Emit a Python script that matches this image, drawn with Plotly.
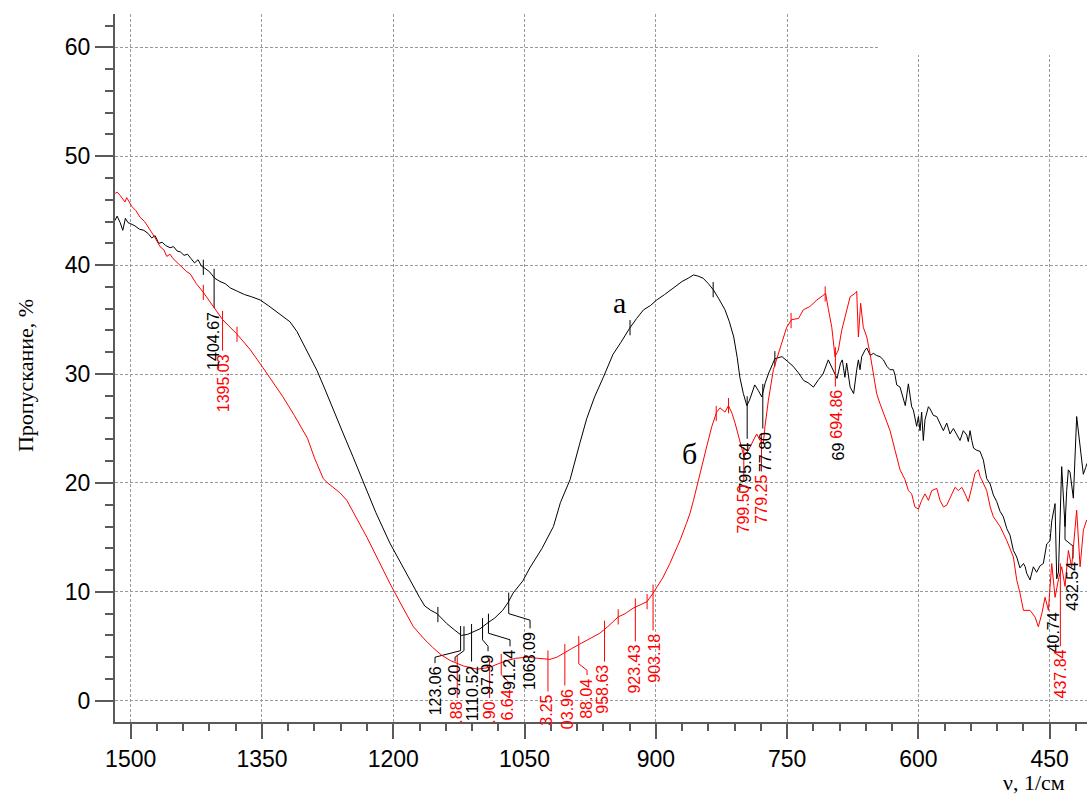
import numpy as np
import plotly.graph_objects as go

# ---------------- data ----------------
black_wn = [1517.9,1515.5,1512,1509,1506,1503,1500,1495,1490,1485,1480,1476,1472,1468,1464,1460,1455,1451,1447,1443,1439,1435,1431,1427,1423,1419,1415,1410,1404,1398,1392,1386,1378,1370,1362,1352,1343,1335,1326,1318,1310,1303,1295,1287,1278,1269,1257,1246,1235,1220,1204,1192,1181,1170,1164,1157,1150,1144,1139,1130,1122,1115,1109,1101,1093,1084,1075,1069,1063,1052,1044,1030,1017,1009,998,994,987,979,970,960,949,940,930,922,914,906,899,890,880,870,863,857,852,846,840,834,828,821,816,811,807,804,800,796,793,790,787,783,779,775,771,764,756,750,743,737,731,726,720,714,709,703,698,693,689,687,684,682,678,674,670.5,668.6,666.7,664.8,661,659,655,651.5,647.7,643.9,640,636,632.4,628.6,626.7,624.8,621,619,617,615,611.5,607.7,605.8,602,600,598.2,596.3,594.4,592.5,588.6,586.7,582.9,579.1,575.3,571.5,567.7,563.9,560,556.3,552.5,548.7,544.8,543,541,539,537,533.4,529.6,525.8,522,518,514.4,510.6,506.8,503,499,495.3,491.5,487.7,484,480,478,476.3,472.5,468.7,465,461,457.3,453.4,449.6,447.7,443.9,442,440,436.3,432.5,430.6,428.7,426.8,423,419.2,415.4,411.6,409,407.4]
black_t = [44.1,44.5,43.9,43.2,44.3,43.9,43.8,43.6,43.3,43.2,42.9,42.5,42.7,42.0,42.1,41.8,41.6,41.7,41.3,41.2,40.9,41.0,40.6,40.2,40.5,39.9,39.7,39.4,38.8,38.5,38.3,37.9,37.6,37.3,37.1,36.8,36.3,35.8,35.3,34.8,33.9,32.8,31.6,30.3,28.6,26.8,24.5,22.4,20.3,17.3,14.5,12.7,11.1,9.5,8.7,8.3,8.0,7.5,7.1,6.5,6.0,6.1,6.3,6.6,7.1,7.6,8.3,9.0,9.9,11.0,12.2,14.0,16.0,18.2,20.3,21.6,23.6,25.9,27.9,29.7,31.8,32.9,34.2,35.1,35.9,36.3,36.8,37.3,37.9,38.5,38.8,39.1,39.0,38.8,38.3,37.7,36.9,35.9,34.8,33.4,31.5,29.7,28.2,27.1,27.6,28.4,29.0,28.5,27.9,29.2,30.1,31.4,31.6,31.2,30.7,30.1,29.4,29.2,28.8,29.5,30.0,31.3,30.5,29.6,31.0,31.3,29.7,31.0,28.8,28.2,30.4,31.3,30.4,31.6,32.2,32.4,31.7,31.9,31.7,31.6,31.3,30.7,30.4,30.4,29.9,29.0,28.8,28.2,27.6,27.1,29.1,27.0,26.7,25.2,26.1,24.8,26.5,23.9,25.8,27.0,26.8,26.2,26.1,25.5,24.8,25.5,24.5,25.0,24.5,23.9,24.8,24.4,23.8,24.8,23.9,23.2,23.0,22.9,22.1,20.4,19.9,18.9,18.3,17.4,16.9,15.8,15.2,13.8,13.2,12.2,12.6,12.3,11.7,11.1,12.3,11.8,12.4,12.6,14.4,14.7,16.5,18.1,11.2,11.8,21.5,16.0,19.3,21.2,21.0,18.6,26.1,23.6,20.8,21.4,21.8]

red_wn = [1517.6,1515.3,1512,1509,1506.5,1504.5,1501,1498.8,1494,1489.3,1484,1478,1472,1466.5,1462,1458.8,1455,1451.6,1444,1436,1432,1425,1417,1406,1395,1379,1364,1349,1338,1326,1313,1306,1298,1290,1280,1275,1269,1261,1253,1242,1230,1217,1204,1190,1177,1165,1155,1145,1135,1120,1104,1095,1089,1080,1070,1060,1047,1035,1021,1013,1006,996,987,975,964,955,943,935,926,918,910,903,897,892,884,880,876,872,865,861,857,852,849,842,836,830.5,826.7,823,821,817,813,809.5,804,799.2,794.3,788.6,784.8,781,777.2,775.3,771.4,765.7,758,750.5,744.8,737,731.5,724,716,708.6,706,703,699,695.3,691.5,687.7,682,678,672.4,670.5,668.6,666,663,659,655.3,651.5,647.7,644,638,632.4,626.7,621,615.3,611.5,607.7,604,600,596.3,592.5,588.6,584.8,579,575.3,571.5,567.7,562,558.2,554.4,550.5,546.7,543,539,535.3,531.5,529.6,527.7,522,518,514.4,506.7,499,491.5,487.7,484,480,476,472.5,466.8,463,459,455.3,451.5,447.7,443.9,440.1,436.3,432.5,428.7,424.9,419.2,415.3,411.5,407.7]
red_t = [46.6,46.7,46.4,46.0,45.8,46.2,45.7,45.4,45.0,44.4,44.0,43.3,42.5,41.7,41.4,40.8,41.0,40.6,40.0,39.4,39.2,38.3,37.5,36.2,35.0,33.7,32.3,30.6,29.3,27.9,26.2,25.2,24.1,22.3,20.4,20.0,19.6,19.1,18.4,16.8,15.0,12.9,10.8,8.7,6.8,5.7,4.9,4.2,3.7,3.2,2.9,3.0,3.1,3.4,3.7,3.9,4.0,3.9,3.8,4.0,4.3,4.8,5.2,5.7,6.2,6.8,7.7,8.0,8.5,8.8,9.1,9.9,10.6,11.3,12.6,13.3,14.1,14.8,16.3,17.2,18.4,20.1,21.0,23.3,25.2,26.5,26.9,26.6,26.5,27.1,26.4,25.5,23.9,22.4,23.0,23.9,24.5,23.9,23.6,25.2,27.6,30.4,32.5,34.3,35.0,35.1,35.9,36.2,36.8,37.2,37.4,36.0,34.3,31.6,32.2,34.0,35.9,37.1,37.4,37.6,33.4,36.5,34.3,33.4,31.9,30.0,28.2,27.3,26.1,24.8,23.0,21.2,20.3,19.3,19.0,17.8,17.6,18.4,19.0,18.4,19.3,19.5,18.4,17.8,17.95,19.0,19.6,19.3,19.6,19.0,18.3,19.6,20.9,21.2,20.6,20.3,19.3,17.8,16.9,16.0,14.7,13.2,11.1,9.9,8.3,8.3,8.3,7.7,6.8,8.0,9.5,8.3,12.6,9.5,11.1,12.3,10.5,13.8,12.3,17.5,12.3,15.7,16.6]

x_ticks = [1500, 1350, 1200, 1050, 900, 750, 600, 450]
y_ticks = [0, 10, 20, 30, 40, 50, 60]

# labelled peaks
black_peaks = [1404.67, 1123.06, 1119.20, 1110.52, 1097.99, 1091.24, 1068.09, 795.64, 777.80, 692.10, 440.74, 432.54]
black_peak_text = ["1404.67", "123.06", "9.20", "1110.52", "97.99", "91.24", "1068.09", "795.64", "77.80", "69", "40.74", "432.54"]
red_peaks = [1395.03, 1126.88, 1089.90, 1076.64, 1023.25, 1003.96, 988.04, 958.63, 923.43, 903.18, 799.50, 779.25, 694.86, 437.84]
red_peak_text = ["1395.03", ".88", ".90", "6.64", "3.25", "03.96", "88.04", "958.63", "923.43", "903.18", "799.50", "779.25", "694.86", "437.84"]

# unlabelled marks on the curves
black_marks = [1417.0, 1149.0, 929.5, 834.5, 764.0]
red_marks = [1417.0, 1378.5, 831.0, 817.0, 745.5, 706.5, 943.0, 910.0]

# label placement: (text x [wavenumber], text top [%], elbow [%] or None, draw leader)
black_label_pos = [
    (1404.67, 35.9, None, True),
    (1152.3, 3.3, 4.6, True),
    (1129.4, 3.45, 4.6, True),
    (1110.0, 3.45, None, True),
    (1091.7, 4.4, 5.6, True),
    (1066.6, 4.85, 6.2, True),
    (1043.7, 6.5, 8.0, True),
    (797.5, 23.9, None, True),
    (775.3, 24.85, None, True),
    (691.9, 23.9, None, False),
    (446.2, 8.3, None, False),
    (423.4, 12.9, 14.8, True),
]
red_label_pos = [
    (1394.5, 32.0, None, True),
    (1127.2, 0.1, None, True),
    (1089.5, 0.1, None, True),
    (1069.0, 1.25, 2.4, True),
    (1024.3, 0.7, None, True),
    (1001.5, 1.25, None, True),
    (978.6, 2.2, 3.4, True),
    (960.3, 3.45, None, True),
    (923.8, 5.3, None, True),
    (900.9, 6.3, None, True),
    (800.4, 20.0, None, True),
    (778.7, 20.9, None, True),
    (693.0, 28.7, None, True),
    (438.2, 4.85, None, True),
]

X_RANGE = [1517.9, 407.4]
Y_RANGE = [-1.95, 63.06]

# ---------------- figure ----------------
fig = go.Figure()

def curve_at(wn_list, t_list, w):
    wn = np.array(wn_list)[::-1]
    t = np.array(t_list)[::-1]
    return float(np.interp(w, wn, t))

def leaders(wn_list, t_list, peaks, pos, marks):
    xs, ys = [], []
    for p, (lx, top, elbow, draw) in zip(peaks, pos):
        if not draw:
            continue
        tc = curve_at(wn_list, t_list, p)
        if elbow is None:
            xs += [p, p, None]
            ys += [tc + 0.8, top + 0.15, None]
        else:
            xs += [p, p, lx, lx, None]
            ys += [tc + 0.8, elbow, elbow - 0.6, top + 0.15, None]
    for m in marks:
        tc = curve_at(wn_list, t_list, m)
        xs += [m, m, None]
        ys += [tc + 0.7, tc - 0.7, None]
    return xs, ys

for wn_list, t_list, peaks, pos, marks, col in [
    (black_wn, black_t, black_peaks, black_label_pos, black_marks, "black"),
    (red_wn, red_t, red_peaks, red_label_pos, red_marks, "#ff0000"),
]:
    fig.add_trace(go.Scatter(x=wn_list, y=t_list, mode="lines",
                             line=dict(color=col, width=1), hoverinfo="skip",
                             showlegend=False))
    lx, ly = leaders(wn_list, t_list, peaks, pos, marks)
    fig.add_trace(go.Scatter(x=lx, y=ly, mode="lines",
                             line=dict(color=col, width=1), hoverinfo="skip",
                             showlegend=False))

label_font = "Liberation Sans, Arial, sans-serif"
annotations = []
for peaks, texts, pos, col in [
    (black_peaks, black_peak_text, black_label_pos, "black"),
    (red_peaks, red_peak_text, red_label_pos, "#ff0000"),
]:
    for p, txt, (lx, top, elbow, draw) in zip(peaks, texts, pos):
        annotations.append(dict(x=lx, y=top, xref="x", yref="y", text=txt,
                                showarrow=False, textangle=-90,
                                xanchor="center", yanchor="top",
                                font=dict(family=label_font, size=16, color=col)))

serif = "Liberation Serif, Times New Roman, serif"
annotations += [
    dict(x=942, y=36.6, xref="x", yref="y", text="а", showarrow=False,
         font=dict(family=serif, size=30, color="black")),
    dict(x=861, y=22.7, xref="x", yref="y", text="б", showarrow=False,
         font=dict(family=serif, size=30, color="black")),
    dict(x=-0.0926, y=0.49, xref="paper", yref="paper", text="Пропускание, %",
         showarrow=False, textangle=-90, xanchor="center", yanchor="middle",
         font=dict(family=serif, size=22, color="black")),
    dict(x=0.945, y=-0.086, xref="paper", yref="paper", text="ν, 1/см",
         showarrow=False, xanchor="center", yanchor="middle",
         font=dict(family=serif, size=22, color="black")),
]

axis_col = "#5a5a5a"
grid = dict(showgrid=True, gridcolor="#9a9a9a", gridwidth=1, griddash="3px,2px",
            zeroline=False, showline=True, linecolor=axis_col, linewidth=2,
            ticks="outside", tickcolor=axis_col, tickwidth=2,
            tickfont=dict(family=label_font, size=23, color="black"))

fig.update_xaxes(range=X_RANGE, tickmode="array", tickvals=x_ticks,
                 ticktext=[str(v) for v in x_ticks], ticklen=15,
                 minor=dict(dtick=30, tick0=0, ticks="outside", ticklen=7,
                            tickcolor=axis_col, tickwidth=1.5, showgrid=False),
                 **grid)
fig.update_yaxes(range=Y_RANGE, tickmode="array", tickvals=y_ticks,
                 ticktext=[str(v) for v in y_ticks], ticklen=18,
                 minor=dict(dtick=2, tick0=0, ticks="outside", ticklen=8,
                            tickcolor=axis_col, tickwidth=1.5, showgrid=False),
                 **grid)

# white mask over the grid in the upper right corner
fig.add_shape(type="rect", xref="x", yref="y", x0=643.9, x1=X_RANGE[1],
              y0=59.3, y1=Y_RANGE[1], fillcolor="white", line=dict(width=0),
              layer="between")

fig.update_layout(width=1087, height=800, plot_bgcolor="white",
                  paper_bgcolor="white",
                  margin=dict(l=115, r=0, t=14, b=78),
                  annotations=annotations, showlegend=False)

fig.write_html("out.html",
               config={"displayModeBar": False},
               post_script="document.body.style.margin='0px';"
                           "document.body.style.overflow='hidden';")
